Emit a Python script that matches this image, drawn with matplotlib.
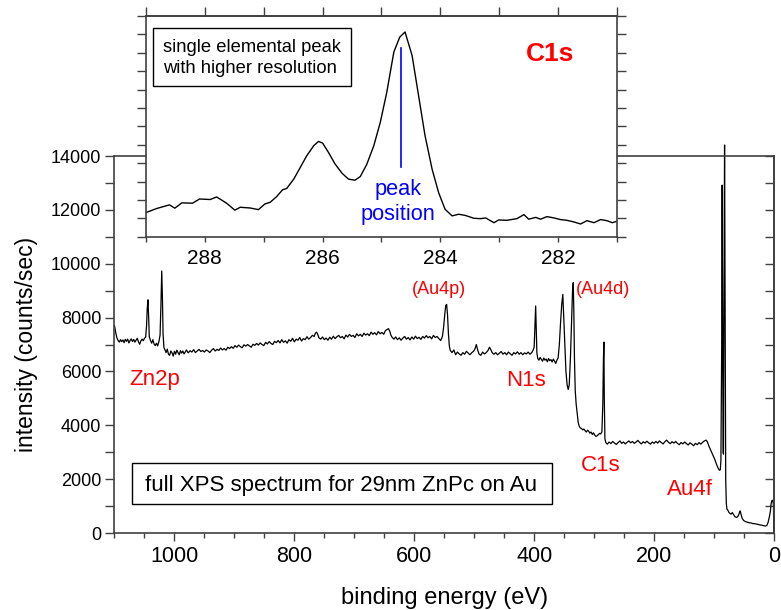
import matplotlib
matplotlib.use("Agg")
import matplotlib.pyplot as plt
from matplotlib.ticker import MultipleLocator
from matplotlib.patches import Rectangle

plt.rcParams['font.family'] = ['Liberation Sans', 'DejaVu Sans']

# full survey spectrum, binding energy (eV) vs counts/sec
survey_be = [
    1100, 1098, 1096, 1094, 1092, 1090, 1088, 1086, 1084, 1082,
    1080, 1078, 1076, 1074, 1072, 1070, 1068, 1066, 1064, 1062,
    1060, 1058, 1056, 1054, 1052, 1050, 1048, 1046.5, 1045.5, 1044.2,
    1043, 1042, 1040, 1038, 1036, 1034, 1032, 1030, 1028, 1026,
    1024, 1022.5, 1021.2, 1020, 1019, 1017.5, 1016, 1014, 1012, 1010,
    1008, 1006, 1004, 1002, 1000, 998, 996, 994, 992, 990,
    988, 986, 984, 982, 980, 977, 974, 971, 968, 965,
    962, 959, 956, 953, 950, 947, 944, 941, 938, 935,
    932, 929, 926, 923, 920, 917, 914, 911, 908, 905,
    902, 899, 896, 893, 890, 887, 884, 881, 878, 875,
    872, 869, 866, 863, 860, 857, 854, 851, 848, 845,
    842, 839, 836, 833, 830, 827, 824, 821, 818, 815,
    812, 809, 806, 803, 800, 797, 794, 791, 788, 785,
    782, 779, 776, 773, 770, 767, 765, 763, 761, 759,
    756, 753, 750, 747, 744, 741, 738, 735, 732, 729,
    726, 723, 720, 717, 714, 711, 708, 705, 702, 699,
    696, 693, 690, 687, 684, 681, 678, 675, 672, 669,
    666, 663, 660, 657, 654, 651, 648, 645, 643, 641,
    639, 637, 634, 631, 628, 625, 622, 619, 616, 613,
    610, 607, 604, 601, 598, 595, 592, 589, 586, 583,
    580, 577, 574, 571, 568, 565, 562, 559, 556, 553,
    551, 549, 547.5, 546, 544.5, 543, 541.5, 540, 537, 534,
    531, 528, 525, 522, 519, 516, 513, 510, 507, 504,
    501, 498.5, 496.5, 494.5, 492, 489, 486, 483, 480, 477,
    474.5, 472.5, 470, 467, 464, 461, 458, 455, 452, 449,
    446, 443, 440, 437, 434, 431, 428, 425, 422, 419,
    416, 413, 410, 407, 404, 402, 400, 398.5, 397.5, 396.5,
    395.5, 394, 392, 390, 388, 386, 384, 382, 380, 378,
    376, 374, 372, 370, 368, 366, 364, 362, 360, 358,
    356, 354, 352.2, 351, 349, 347, 345, 343.2, 341.5, 339.5,
    337.5, 336, 334.8, 333.8, 332.8, 331.5, 330, 328, 326.5, 325,
    323, 321, 319, 317, 315, 313, 311, 309, 307, 305,
    303, 301, 299, 297, 295, 293, 291, 289, 287, 285.5,
    284.5, 283.7, 283, 282, 280.5, 278, 275, 272, 269, 266,
    263, 260, 257, 254, 251, 248, 245, 242, 239, 236,
    233, 230, 227, 224, 221, 218, 215, 212, 209, 206,
    203, 200, 197, 194, 191, 188, 185, 182, 179, 176,
    173, 170, 167, 164, 161, 158, 155, 152, 149, 146,
    143, 140, 137, 134, 131, 128, 125, 122, 119, 116,
    113, 111, 108, 105, 102, 99, 96, 93, 91, 89.5,
    88.5, 87.2, 86.4, 85.6, 84.8, 84.2, 83.5, 82.4, 81.5, 80.5,
    79.5, 78.5, 77, 75, 73, 71.5, 69.5, 67.5, 65, 62,
    59.5, 57.5, 56.3, 55, 53, 51, 49.5, 47, 44, 41,
    38, 35, 32, 29, 26, 23, 20, 17, 14, 12,
    10, 8.5, 7.5, 6, 5, 3.8, 2.5, 1.5, 0.8, 0.3,
]
survey_cps = [
    7700, 7450, 7250, 7150, 7090, 7180, 7110, 7170, 7070, 7190,
    7120, 7200, 7060, 7150, 7210, 7110, 7190, 7090, 7160, 7230,
    7100, 7010, 7130, 7200, 7140, 7230, 7280, 7700, 8300, 8660,
    8000, 7300, 7150, 7050, 7180, 7020, 6960, 7050, 6950, 7100,
    7350, 8500, 9730, 8700, 7400, 6880, 6820, 6700, 6830, 6640,
    6600, 6760, 6690, 6570, 6750, 6640, 6790, 6700, 6620, 6770,
    6680, 6760, 6650, 6720, 6800, 6690, 6770, 6720, 6810, 6700,
    6760, 6820, 6740, 6780, 6720, 6800, 6760, 6700, 6790, 6850,
    6760, 6820, 6780, 6870, 6800, 6850, 6790, 6900, 6850, 6920,
    6860, 6960, 6900, 6980, 6920, 6880, 6990, 6940, 7000, 6950,
    6900, 7010, 6970, 7040, 6980, 7060, 7000, 6960, 7080, 7020,
    7110, 7040, 7000, 7120, 7070, 7150, 7060, 7180, 7080, 7140,
    7050, 7180, 7120, 7230, 7100, 7200, 7160, 7260, 7130, 7220,
    7180, 7290, 7200, 7260, 7340, 7300, 7420, 7460, 7380, 7250,
    7200, 7280, 7180, 7240, 7160, 7270, 7200, 7310, 7220, 7290,
    7340, 7250, 7300, 7210, 7350, 7280, 7380, 7300, 7340, 7260,
    7400, 7320, 7380, 7300, 7420, 7350, 7400, 7330, 7460, 7380,
    7440, 7360, 7480, 7400, 7450, 7380, 7520, 7560, 7590, 7500,
    7350, 7270, 7200, 7280, 7180, 7250, 7160, 7240, 7300, 7200,
    7260, 7170, 7280, 7200, 7310, 7220, 7270, 7190, 7300, 7240,
    7330, 7250, 7300, 7210, 7340, 7260, 7300, 7220, 7150, 7300,
    7650, 8150, 8450, 8490, 8100, 7400, 6950, 6780, 6700, 6800,
    6620, 6720, 6650, 6600, 6700, 6640, 6750, 6680, 6620, 6700,
    6750, 6850, 7000, 6820, 6650, 6600, 6720, 6650, 6700, 6780,
    6900, 6820, 6700, 6640, 6700, 6620, 6680, 6740, 6640, 6700,
    6620, 6720, 6660, 6600, 6700, 6650, 6730, 6640, 6700, 6620,
    6690, 6650, 6720, 6640, 6700, 6780, 6900, 7800, 8430, 7600,
    6700, 6480, 6420, 6520, 6450, 6380, 6500, 6420, 6460, 6360,
    6480, 6400, 6440, 6350, 6460, 6380, 6300, 6420, 6500, 7000,
    7800, 8500, 8860, 8200, 7000, 6000, 5500, 5330, 5500, 6500,
    8000, 9000, 9300, 8200, 6500, 5300, 4800, 4420, 4100, 3980,
    3900, 3880, 3830, 3860, 3800, 3750, 3820, 3780, 3710, 3750,
    3660, 3720, 3640, 3590, 3610, 3650, 3700, 3680, 3760, 4800,
    6400, 7090, 5000, 3500, 3360, 3300, 3380, 3320, 3400, 3340,
    3290, 3360, 3420, 3330, 3380, 3310, 3370, 3420, 3350, 3400,
    3330, 3380, 3440, 3360, 3310, 3390, 3340, 3410, 3350, 3300,
    3380, 3330, 3400, 3340, 3420, 3360, 3310, 3390, 3450, 3370,
    3320, 3390, 3340, 3400, 3330, 3280, 3360, 3310, 3380, 3320,
    3270, 3350, 3300, 3240, 3330, 3280, 3360, 3300, 3370, 3420,
    3450, 3380, 3200, 3050, 2900, 2750, 2560, 2400, 2330, 2350,
    2700, 7000, 12920, 7000, 3000, 2930, 8000, 14410, 8000, 2000,
    1100, 890, 850, 760, 720, 700, 760, 690, 600, 580,
    640, 760, 820, 700, 540, 480, 447, 420, 400, 380,
    370, 350, 346, 330, 310, 300, 290, 270, 260, 280,
    380, 520, 620, 800, 1060, 1190, 1220, 1160, 1000, 0,
]

# high resolution C1s region (inset)
c1s_be = [
    289.00, 288.82, 288.60, 288.51, 288.39, 288.21, 288.09, 287.91, 287.80, 287.63,
    287.49, 287.40, 287.23, 287.09, 286.98, 286.89, 286.78, 286.68, 286.61, 286.49,
    286.38, 286.27, 286.15, 286.07, 286.00, 285.90, 285.79, 285.67, 285.56, 285.45,
    285.36, 285.25, 285.13, 285.02, 284.91, 284.79, 284.69, 284.60, 284.48, 284.37,
    284.26, 284.14, 284.03, 283.92, 283.80, 283.69, 283.58, 283.43, 283.32, 283.23,
    283.09, 283.01, 282.87, 282.70, 282.58, 282.50, 282.38, 282.30, 282.19, 282.07,
    281.96, 281.85, 281.73, 281.62, 281.51, 281.39, 281.28, 281.17, 281.08, 281.00,
    280.90,
]
c1s_cps = [
    1131, 1153, 1173, 1155, 1184, 1182, 1205, 1202, 1216, 1182,
    1144, 1160, 1156, 1147, 1178, 1187, 1218, 1255, 1262, 1313,
    1376, 1440, 1495, 1518, 1509, 1458, 1396, 1345, 1313, 1307,
    1327, 1393, 1495, 1622, 1785, 2004, 2085, 2113, 1985, 1767,
    1549, 1367, 1240, 1149, 1113, 1122, 1116, 1100, 1098, 1102,
    1076, 1091, 1089, 1098, 1120, 1095, 1105, 1095, 1109, 1102,
    1093, 1089, 1080, 1069, 1087, 1076, 1093, 1087, 1076, 1084,
    1090,
]
peak_be = [284.67, 284.67]
peak_marker = [1381, 2028]

spine_col = '#404040'

fig = plt.figure(figsize=(7.81, 6.10), dpi=100)

# main survey axes
ax = fig.add_axes([0.1466, 0.1262, 0.8444, 0.6180])
ax.plot(survey_be, survey_cps, color='black', lw=0.9, clip_on=False)
ax.set_xlim(1100, 0)
ax.set_ylim(0, 14000)
ax.xaxis.set_major_locator(MultipleLocator(200))
ax.xaxis.set_minor_locator(MultipleLocator(50))
ax.yaxis.set_major_locator(MultipleLocator(2000))
ax.yaxis.set_minor_locator(MultipleLocator(1000))
ax.tick_params(axis='x', which='major', direction='out', length=6, width=1,
               labelsize=15.5, pad=3.5, color=spine_col)
ax.tick_params(axis='x', which='minor', direction='out', length=3.6, width=1,
               color=spine_col)
ax.tick_params(axis='y', which='both', direction='out', length=6.5, width=1,
               labelsize=13, pad=3, color=spine_col)
for s in ax.spines.values():
    s.set_color(spine_col)
    s.set_linewidth(1.2)

right = ax.secondary_yaxis('right')
right.yaxis.set_major_locator(MultipleLocator(1000))
right.tick_params(axis='y', direction='in', length=6.5, width=1,
                  labelright=False, color=spine_col)
right.spines['right'].set_color(spine_col)
right.spines['right'].set_linewidth(1.2)

ax.set_xlabel('binding energy (eV)', fontsize=17, va='center')
ax.xaxis.set_label_coords(0.5, -0.1724)
ax.set_ylabel('intensity (counts/sec)', fontsize=16.5, va='center')
ax.yaxis.set_label_coords(-0.1327, 0.5)

red = '#ff0000'
ax.text(1033, 5496, 'Zn2p', color=red, fontsize=16, ha='center', va='baseline')
ax.text(413, 5459, 'N1s', color=red, fontsize=16, ha='center', va='baseline')
ax.text(289, 2313, 'C1s', color=red, fontsize=16, ha='center', va='baseline')
ax.text(141, 1411, 'Au4f', color=red, fontsize=16, ha='center', va='baseline')
ax.text(558, 8875, '(Au4p)', color=red, fontsize=13, ha='center', va='baseline')
ax.text(285, 8875, '(Au4d)', color=red, fontsize=13, ha='center', va='baseline')

ax.add_patch(Rectangle((0.027, 0.0761), 0.6368, 0.1088, transform=ax.transAxes,
                       facecolor='white', edgecolor='black', lw=1.0))
ax.text(0.0463, 0.1114, 'full XPS spectrum for 29nm ZnPc on Au',
        transform=ax.transAxes, fontsize=16, ha='left', va='baseline')

# inset with the C1s detail
ins = fig.add_axes([0.1869, 0.612, 0.6031, 0.3618])
ins.set_facecolor('white')
ins.plot(c1s_be, c1s_cps, color='black', lw=1.0)
ins.plot(peak_be, peak_marker, color='blue', lw=1.2)
ins.set_xlim(289, 281)
ins.set_ylim(1000, 2200)
ins.xaxis.set_major_locator(MultipleLocator(2))
ins.xaxis.set_minor_locator(MultipleLocator(1))
ins.yaxis.set_major_locator(MultipleLocator(100))
ins.tick_params(axis='x', which='both', direction='out', length=3.6, width=1,
                labelsize=15, pad=5.5, color=spine_col)
ins.tick_params(axis='y', which='both', direction='out', length=6.7, width=1,
                left=True, right=True, labelleft=False, color=spine_col)
for s in ins.spines.values():
    s.set_color(spine_col)
    s.set_linewidth(1.2)
top = ins.secondary_xaxis('top')
top.xaxis.set_major_locator(MultipleLocator(1))
top.tick_params(axis='x', direction='out', length=6.7, width=1,
                labeltop=False, color=spine_col)
top.spines['top'].set_color(spine_col)
top.spines['top'].set_linewidth(1.2)

ins.add_patch(Rectangle((0.0155, 0.683), 0.4191, 0.2614, transform=ins.transAxes,
                        facecolor='white', edgecolor='black', lw=1.0))
ins.text(0.0367, 0.8355, 'single elemental peak', transform=ins.transAxes,
         fontsize=13.2, ha='left', va='baseline')
ins.text(0.0367, 0.7404, 'with higher resolution', transform=ins.transAxes,
         fontsize=13.2, ha='left', va='baseline')
ins.text(0.8577, 0.796, 'C1s', transform=ins.transAxes, color=red,
         fontsize=19, fontweight='bold', ha='center', va='baseline')
ins.text(0.5357, 0.157, 'peak\nposition', transform=ins.transAxes, color='blue',
         fontsize=15.7, ha='center', va='center', linespacing=1.22)

fig.savefig('out.png', dpi=100)
